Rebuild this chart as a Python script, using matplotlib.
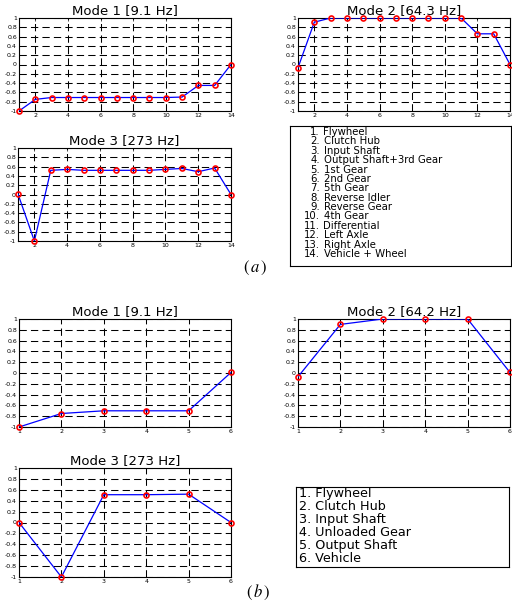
import matplotlib
matplotlib.use("Agg")
import matplotlib.pyplot as plt
import numpy as np

plt.rcParams['font.family'] = ['DejaVu Sans']
plt.rcParams['mathtext.fontset'] = 'stix'

W, H = 512, 603

# ---- data (a) : 14-DOF model ----
nodes_a = list(range(1, 15))
mode1_a = [-1.0, -0.75, -0.71, -0.71, -0.71, -0.71, -0.71, -0.71, -0.71, -0.71, -0.70, -0.45, -0.45, 0.0]
mode2_a = [-0.07, 0.91, 1.0, 1.0, 1.0, 1.0, 1.0, 1.0, 1.0, 1.0, 1.0, 0.66, 0.66, 0.0]
mode3_a = [0.01, -1.0, 0.52, 0.54, 0.52, 0.52, 0.52, 0.52, 0.52, 0.54, 0.56, 0.49, 0.57, 0.0]
titles_a = ["Mode 1 [9.1 Hz]", "Mode 2 [64.3 Hz]", "Mode 3 [273 Hz]"]
xticks_a = [2, 4, 6, 8, 10, 12, 14]
labels_a = ["Flywheel", "Clutch Hub", "Input Shaft", "Output Shaft+3rd Gear", "1st Gear",
            "2nd Gear", "5th Gear", "Reverse Idler", "Reverse Gear", "4th Gear",
            "Differential", "Left Axle", "Right Axle", "Vehicle + Wheel"]

# ---- data (b) : 6-DOF model ----
nodes_b = list(range(1, 7))
mode1_b = [-1.0, -0.75, -0.70, -0.70, -0.70, 0.01]
mode2_b = [-0.07, 0.90, 1.0, 1.0, 1.0, 0.01]
mode3_b = [0.0, -1.0, 0.51, 0.51, 0.52, 0.0]
titles_b = ["Mode 1 [9.1 Hz]", "Mode 2 [64.2 Hz]", "Mode 3 [273 Hz]"]
xticks_b = [1, 2, 3, 4, 5, 6]
labels_b = ["Flywheel", "Clutch Hub", "Input Shaft", "Unloaded Gear", "Output Shaft", "Vehicle"]

yticks = [-1, -0.8, -0.6, -0.4, -0.2, 0, 0.2, 0.4, 0.6, 0.8, 1]
ytick_labels = ["-1", "-0.8", "-0.6", "-0.4", "-0.2", "0", "0.2", "0.4", "0.6", "0.8", "1"]

fig = plt.figure(figsize=(W / 100, H / 100), dpi=100)


def box(l, r, t, b):
    return [l / W, 1 - b / H, (r - l) / W, (b - t) / H]


def mode_plot(rect, x, y, title, xticks):
    ax = fig.add_axes(rect)
    ax.plot(x, y, '-', color='#0000ff', lw=0.9, zorder=3)
    ax.plot(x, y, 'o', mfc='none', mec='#ff0000', mew=1.2, ms=3.6, zorder=4, clip_on=False)
    ax.set_xlim(x[0], x[-1])
    ax.set_ylim(-1, 1)
    ax.set_xticks(xticks)
    ax.set_xticklabels([str(v) for v in xticks])
    ax.set_yticks(yticks)
    ax.set_yticklabels(ytick_labels)
    ax.tick_params(direction='in', length=2, width=0.5, labelsize=4.5, pad=1.5,
                   top=True, right=True)
    ax.grid(True, color='black', lw=0.75, linestyle=(0, (7, 4)))
    for s in ax.spines.values():
        s.set_linewidth(0.8)
    ax.set_title(title, fontsize=9.5, pad=2.5)
    return ax


# (a)
mode_plot(box(19, 231, 18, 111), nodes_a, mode1_a, titles_a[0], xticks_a)
mode_plot(box(298, 510, 18, 111), nodes_a, mode2_a, titles_a[1], xticks_a)
mode_plot(box(18, 231, 148, 241), nodes_a, mode3_a, titles_a[2], xticks_a)

lg = fig.add_axes(box(290, 511, 126, 266))
lg.set_xticks([]); lg.set_yticks([])
for s in lg.spines.values():
    s.set_linewidth(0.8)
y0, dy = 132, 9.38
for i, name in enumerate(labels_a):
    yy = 1 - (y0 + i * dy) / H
    fig.text(320 / W, yy, f"{i + 1}.", ha='right', va='center', fontsize=7.3)
    fig.text(323.5 / W, yy, name, ha='left', va='center', fontsize=7.3)

fig.text(255 / W, 1 - 268 / H, r"$(\,a\,)$", ha='center', va='center', fontsize=12)

# (b)
mode_plot(box(19, 231, 319, 427), nodes_b, mode1_b, titles_b[0], xticks_b)
mode_plot(box(298, 510, 319, 427), nodes_b, mode2_b, titles_b[1], xticks_b)
mode_plot(box(19, 231, 468, 577), nodes_b, mode3_b, titles_b[2], xticks_b)

lg2 = fig.add_axes(box(296, 509, 487, 567))
lg2.set_xticks([]); lg2.set_yticks([])
for s in lg2.spines.values():
    s.set_linewidth(0.8)
y0, dy = 494, 13.0
for i, name in enumerate(labels_b):
    yy = 1 - (y0 + i * dy) / H
    fig.text(299 / W, yy, f"{i + 1}. {name}", ha='left', va='center', fontsize=9.2)

fig.text(258 / W, 1 - 592 / H, r"$(\,b\,)$", ha='center', va='center', fontsize=12)

fig.savefig("out.png", dpi=100)
